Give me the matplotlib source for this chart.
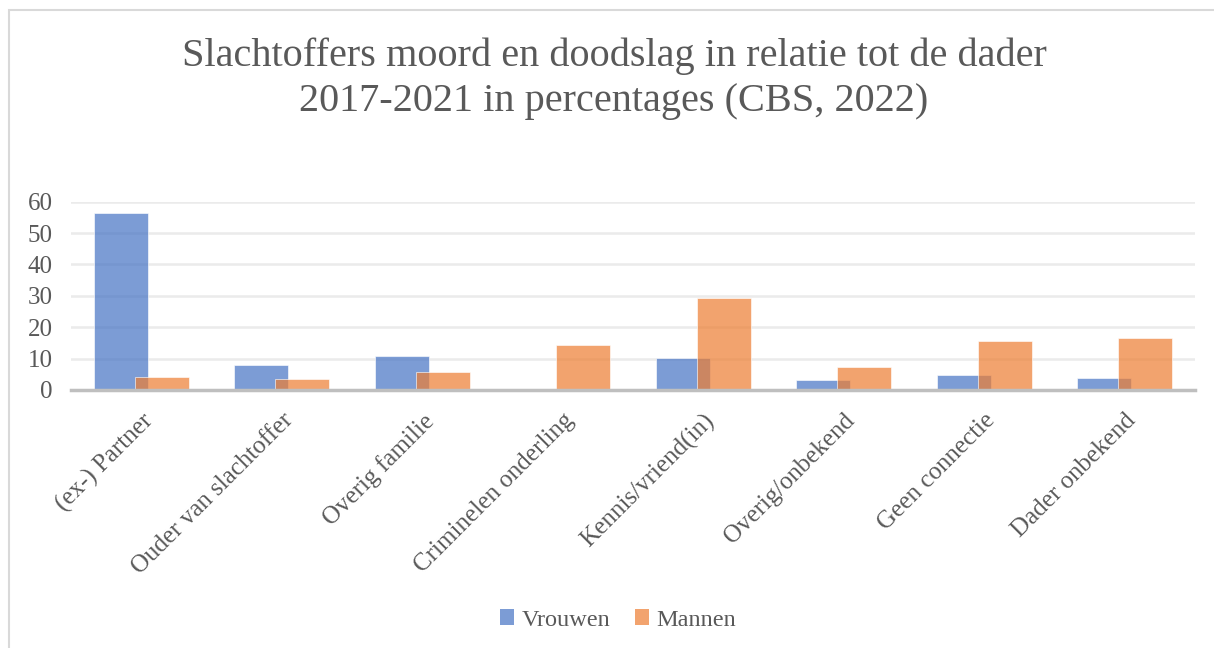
import matplotlib
matplotlib.use("Agg")
import matplotlib.pyplot as plt
import numpy as np
from matplotlib.patches import Rectangle, Patch

categories = ["(ex-) Partner", "Ouder van slachtoffer", "Overig familie", "Criminelen onderling",
              "Kennis/vriend(in)", "Overig/onbekend", "Geen connectie", "Dader onbekend"]
vrouwen = [56.3, 8.0, 10.8, 0.0, 10.2, 3.2, 4.7, 3.7]
mannen = [4.1, 3.6, 5.8, 14.4, 29.3, 7.4, 15.7, 16.5]
yticks = [0, 10, 20, 30, 40, 50, 60]

title = "Slachtoffers moord en doodslag in relatie tot de dader\n2017-2021 in percentages (CBS, 2022)"

plt.rcParams['font.family'] = ['Liberation Serif', 'DejaVu Serif']
txt = '#595959'

fig = plt.figure(figsize=(12.14, 6.48), dpi=100)
fig.patches.append(Rectangle((9/1214, -0.1), 1.2, 1 - 10/648 + 0.1, transform=fig.transFigure,
                             fill=False, edgecolor='#D9D9D9', linewidth=1.5))

ax = fig.add_axes([71/1214, 1 - 390/648, (1195-71)/1214, (390-201.7)/648])
x = np.arange(len(categories))
w = 0.385
off = 0.146
ax.bar(x - off, vrouwen, w, color='#4472C4', alpha=0.7, edgecolor='white', linewidth=0.6, zorder=3)
ax.bar(x + off, mannen, w, color='#ED7D31', alpha=0.7, edgecolor='white', linewidth=0.6, zorder=3)

ax.set_xlim(-0.5, len(categories) - 0.5)
ax.set_ylim(0, 60)
ax.set_yticks(yticks)
ax.set_yticklabels([str(v) for v in yticks], fontsize=18, color=txt)
ax.set_xticks(x)
ax.set_xticklabels(categories, rotation=45, ha='right', rotation_mode='anchor', fontsize=18, color=txt)
ax.tick_params(axis='both', length=0)
ax.tick_params(axis='y', pad=13)
ax.tick_params(axis='x', pad=14)
ax.grid(axis='y', color='#EBEBEB', linewidth=1.8, zorder=0)
for s in ['top', 'right', 'left']:
    ax.spines[s].set_visible(False)
ax.spines['bottom'].set_color('#BFBFBF')
ax.spines['bottom'].set_linewidth(2.5)
ax.spines['bottom'].set_zorder(4)

fig.text(614/1214, 1 - 79/648, title, ha='center', va='center', fontsize=29, color=txt, linespacing=1.28)

handles = [Patch(facecolor='#4472C4', alpha=0.7), Patch(facecolor='#ED7D31', alpha=0.7)]
fig.legend(handles, ['Vrouwen', 'Mannen'], loc='center', bbox_to_anchor=(618/1214, 1 - 620/648),
           ncol=2, frameon=False, fontsize=17.5, handlelength=0.6, handleheight=0.6,
           handletextpad=0.3, columnspacing=1.0, labelcolor=txt)

fig.savefig('out.png', dpi=100)
